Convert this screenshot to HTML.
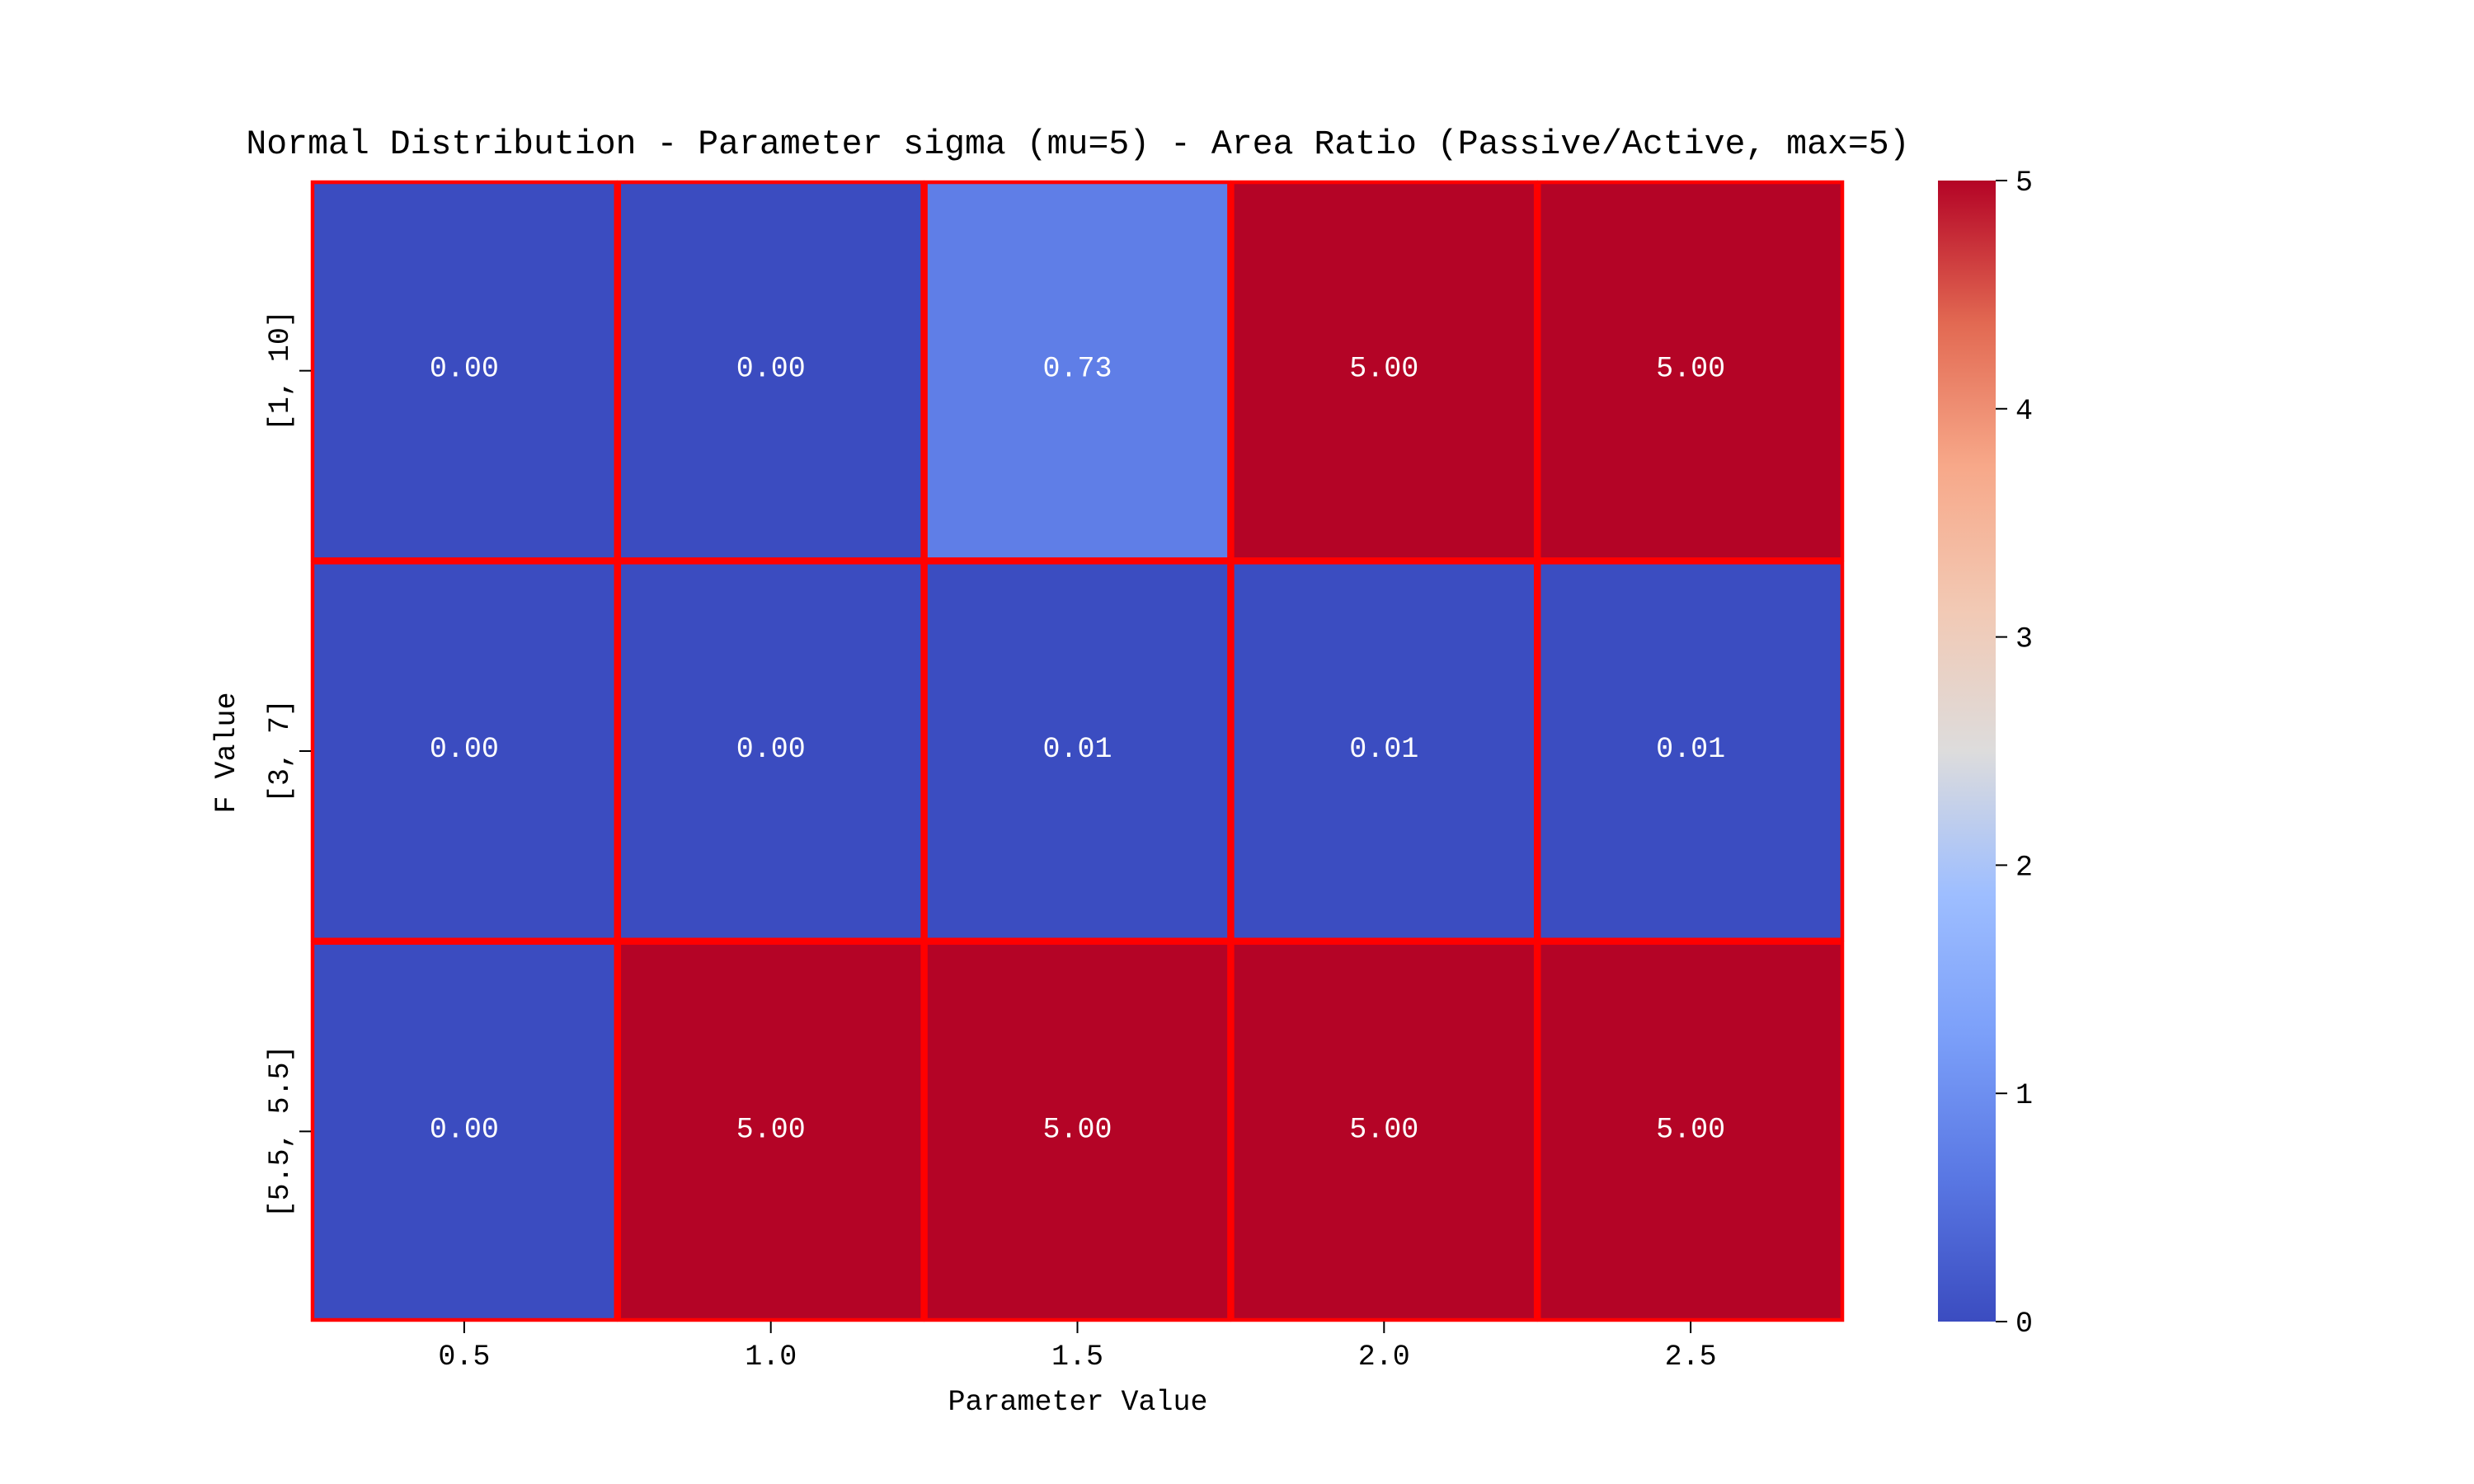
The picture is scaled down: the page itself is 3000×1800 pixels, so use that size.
<!DOCTYPE html>
<html><head><meta charset="utf-8"><style>
html,body{margin:0;padding:0;background:#fff;}
svg{display:block;}
text{font-family:"Liberation Mono","WenQuanYi Zen Hei",monospace;}
</style></head><body>
<svg id="chart" width="3000" height="1800" viewBox="0 0 3000 1800" xmlns="http://www.w3.org/2000/svg">
<defs>
<linearGradient id="cbgrad" x1="0" y1="1" x2="0" y2="0">
<stop offset="0" stop-color="#3b4cc0"/><stop offset="0.125" stop-color="#5977e3"/>
<stop offset="0.25" stop-color="#7b9ff9"/><stop offset="0.375" stop-color="#9ebeff"/>
<stop offset="0.5" stop-color="#dddcdc"/><stop offset="0.625" stop-color="#f2c9b4"/>
<stop offset="0.75" stop-color="#f7a889"/><stop offset="0.875" stop-color="#e26952"/>
<stop offset="1" stop-color="#b40426"/></linearGradient>
</defs>
<text x="1307" y="186" font-size="41.5" text-anchor="middle">Normal Distribution - Parameter sigma (mu=5) - Area Ratio (Passive/Active, max=5)</text>
<g id="cells"></g>
<g id="xaxis"></g>
<g id="yaxis"></g>
<text x="1307" y="1710" font-size="35" text-anchor="middle">Parameter Value</text>
<text transform="translate(284,913) rotate(-90)" font-size="35" text-anchor="middle">F Value</text>
<rect x="2350" y="219" width="70" height="1384" fill="url(#cbgrad)"/>
<g id="cbaxis"></g>
</svg>
<script>
const xCategories = ["0.5","1.0","1.5","2.0","2.5"];
const yCategories = ["[1, 10]","[3, 7]","[5.5, 5.5]"];
const row0 = [0.00, 0.00, 0.73, 5.00, 5.00];
const row1 = [0.00, 0.00, 0.01, 0.01, 0.01];
const row2 = [0.00, 5.00, 5.00, 5.00, 5.00];
const cbTicks = [0,1,2,3,4,5];
const vmin = 0, vmax = 5;
const rows = [row0,row1,row2];

const L=377,R=2236,T=219,B=1603;
const cw=(R-L)/xCategories.length, rh=(B-T)/yCategories.length;
const xPos=i=>L+i*cw, yPos=j=>T+j*rh;
const cbY=v=>B-(v-vmin)/(vmax-vmin)*(B-T);
const NS="http://www.w3.org/2000/svg";
const stops=[[0,[59,76,192]],[0.125,[89,119,227]],[0.25,[123,159,249]],[0.375,[158,190,255]],[0.5,[221,220,220]],[0.625,[242,201,180]],[0.75,[247,168,137]],[0.875,[226,105,82]],[1,[180,4,38]]];
function cmap(v){let t=Math.max(0,Math.min(1,(v-vmin)/(vmax-vmin)));
 for(let k=1;k<stops.length;k++){if(t<=stops[k][0]){const a=stops[k-1],b=stops[k];const f=(t-a[0])/(b[0]-a[0]);
 const c=a[1].map((x,i)=>Math.round(x+(b[1][i]-x)*f));return `rgb(${c.join(',')})`;}}return 'rgb(180,4,38)';}
function mk(tag,attrs,parent){const e=document.createElementNS(NS,tag);for(const k in attrs)e.setAttribute(k,attrs[k]);parent.appendChild(e);return e;}
const cells=document.getElementById('cells');
rows.forEach((row,j)=>row.forEach((v,i)=>{
 const r=mk('rect',{x:xPos(i)+2,y:yPos(j)+2,width:cw-4,height:rh-4,fill:cmap(v),stroke:'#ff0000','stroke-width':4.5},cells);
 
 
 const t=mk('text',{x:xPos(i)+cw/2,y:yPos(j)+rh/2+7,'font-size':35,'text-anchor':'middle',fill:'#fff'},cells);
 
 
 t.textContent=v.toFixed(2);
}));
const xa=document.getElementById('xaxis');
xCategories.forEach((c,i)=>{const x=xPos(i)+cw/2;
 const l=mk('line',{x1:x,x2:x,y1:B,y2:B+14,stroke:'#000','stroke-width':2},xa);
 
 
 const t=mk('text',{x:x,y:B+52,'font-size':35,'text-anchor':'middle'},xa);
 
 
 t.textContent=c;});
const ya=document.getElementById('yaxis');
yCategories.forEach((c,j)=>{const y=yPos(j)+rh/2;
 const l=mk('line',{x1:L-14,x2:L,y1:y,y2:y,stroke:'#000','stroke-width':2},ya);
 
 
 const t=mk('text',{transform:`translate(${L-28},${y}) rotate(-90)`,'font-size':35,'text-anchor':'middle'},ya);
 
 
 t.textContent=c;});
const cb=document.getElementById('cbaxis');
cbTicks.forEach(v=>{const y=cbY(v);
 const l=mk('line',{x1:2420,x2:2434,y1:y,y2:y,stroke:'#000','stroke-width':2},cb);
 
 
 const t=mk('text',{x:2444,y:y+12,'font-size':35},cb);
 
 
 t.textContent=String(v);});
</script>
</body></html>
